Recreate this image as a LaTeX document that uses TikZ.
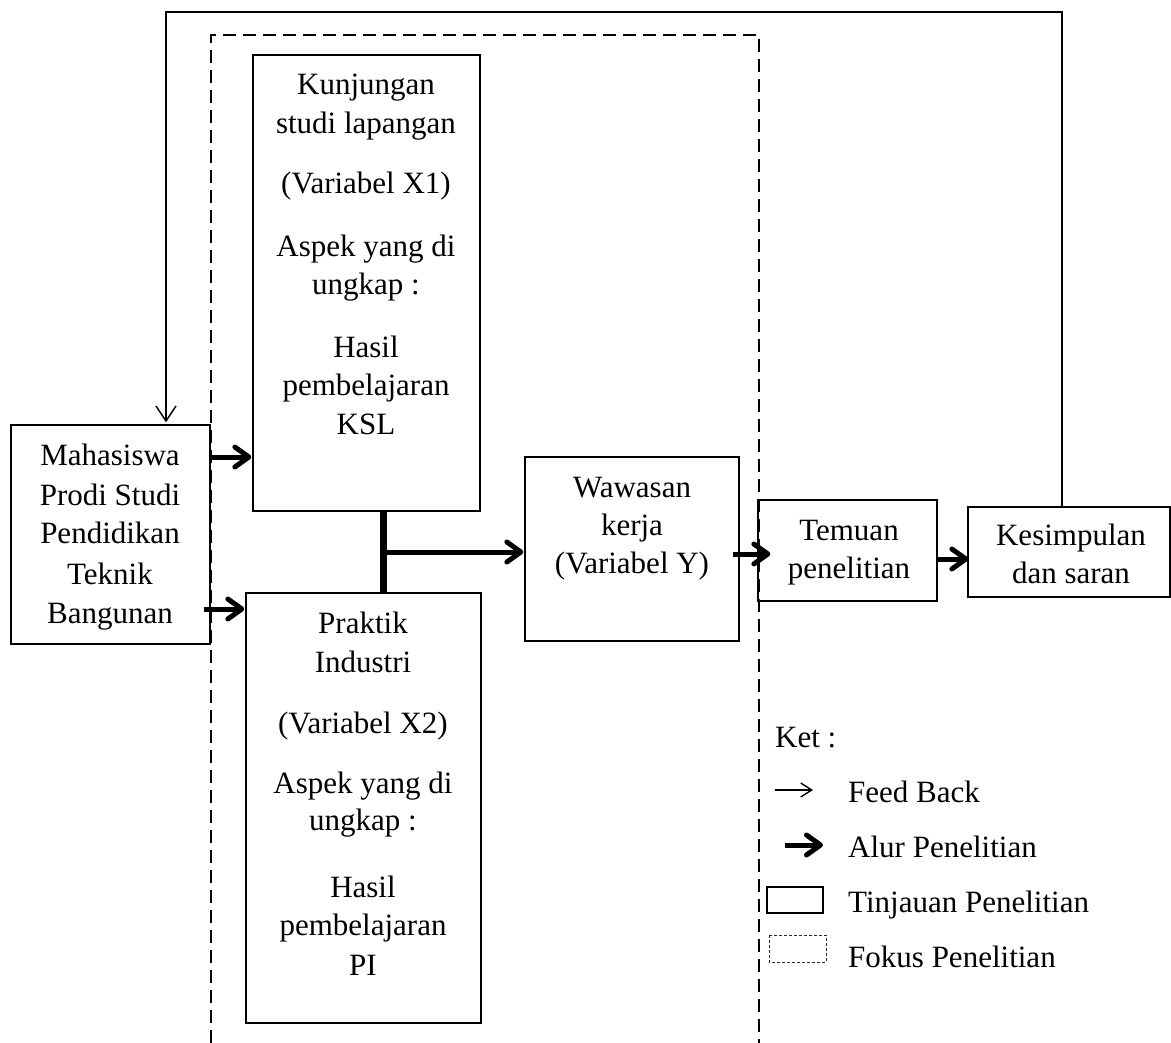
\documentclass[tikz,border=0pt]{standalone}
\usepackage{fontspec}
\setmainfont{Liberation Serif}
\usetikzlibrary{arrows.meta}
\begin{document}
\begin{tikzpicture}[x=1pt,y=-1pt,
  box/.style={draw, line width=1.3pt, inner sep=0pt},
  txt/.style={font=\fontsize{31}{39}\selectfont, inner sep=0pt, anchor=base},
  ltxt/.style={font=\fontsize{31}{39}\selectfont, inner sep=0pt, anchor=base west},
  flow/.style={line width=5pt, -{Straight Barb[length=14pt,width=20pt,round]}},
  fb/.style={line width=1.5pt, -{Straight Barb[length=15pt,width=20pt]}},
  focus/.style={line width=2.8pt, dash pattern=on 13pt off 7pt},
]
\useasboundingbox (0,0) rectangle (1171,1043);

% focus region (dashed, open at the bottom)
\draw[focus] (211,1043) -- (211,35) -- (759,35) -- (759,1043);

% boxes
\node[box, minimum width=199pt, minimum height=219pt] (m)   at (110.5,534.5) {};
\node[box, minimum width=227pt, minimum height=456pt] (ksl) at (366.5,283) {};
\node[box, minimum width=235pt, minimum height=430pt] (pi)  at (363.5,808) {};
\node[box, minimum width=214pt, minimum height=184pt] (ww)  at (632,549) {};
\node[box, minimum width=179pt, minimum height=101pt] (tm)  at (847.5,550.5) {};
\node[box, minimum width=202pt, minimum height=90pt]  (ks)  at (1069,552) {};

% texts
\foreach \t/\yy [count=\i] in {Mahasiswa/465, Prodi Studi/505, Pendidikan/543, Teknik/584, Bangunan/623}
  \node[txt] (mt\i) at (110,\yy) {\t};
\foreach \t/\yy [count=\i] in {Kunjungan/95, studi lapangan/134, {(Variabel X1)}/194, Aspek yang di/257, ungkap :/295, Hasil/357, pembelajaran/395, KSL/434}
  \node[txt] (kt\i) at (366,\yy) {\t};
\foreach \t/\yy [count=\i] in {Praktik/633, Industri/672, {(Variabel X2)}/733, Aspek yang di/793, ungkap :/830, Hasil/897, pembelajaran/935, PI/975}
  \node[txt] (pt\i) at (363,\yy) {\t};
\foreach \t/\yy [count=\i] in {Wawasan/497, kerja/535, {(Variabel Y)}/573}
  \node[txt] (wt\i) at (632,\yy) {\t};
\node[txt] (tt1) at (849,540) {Temuan};
\node[txt] (tt2) at (849,578) {penelitian};
\node[txt] (st1) at (1071,545) {Kesimpulan};
\node[txt] (st2) at (1071,583) {dan saran};

% flow arrows
\coordinate (a1) at (0,457);
\coordinate (a2) at (0,609);
\coordinate (tx) at (383,552);
\coordinate (a3) at (0,554);
\coordinate (a4) at (0,559);
\draw[flow] (m.east |- a1) -- ([xshift=-1pt]ksl.west |- a1);
\draw[flow] ([xshift=-7pt]m.east |- a2) -- ([xshift=-1pt]pi.west |- a2);
\draw[line width=7pt] (ksl.south -| tx) -- (pi.north -| tx);
\draw[flow] (tx) -- ([xshift=-1pt]ww.west |- tx);
\draw[flow] ([xshift=-7pt]ww.east |- a3) -- ([xshift=13pt]tm.west |- a3);
\draw[flow] (tm.east |- a4) -- ([xshift=1pt]ks.west |- a4);

% feedback
\coordinate (c1) at (1062,12);
\coordinate (c2) at (166,12);
\draw[fb] (ks.north -| c1) -- (c1) -- (c2) -- ([yshift=2pt]m.north -| c2);

% legend
\node[ltxt] (ket) at (775,747) {Ket :};
\node[ltxt] (l1) at (848,802) {Feed Back};
\node[ltxt] (l2) at (848,857) {Alur Penelitian};
\node[ltxt] (l3) at (848,912) {Tinjauan Penelitian};
\node[ltxt] (l4) at (848,967) {Fokus Penelitian};
\coordinate (f1) at (775,790);
\coordinate (f2) at (813,790);
\draw[line width=1.4pt, -{Straight Barb[length=11pt,width=14pt]}] (f1) -- (f2);
\coordinate (g1) at (785,845);
\coordinate (g2) at (823,845);
\draw[flow] (g1) -- (g2);
\draw[line width=1.3pt] (767,887) rectangle (823,913);
\draw[line width=1pt, dash pattern=on 3pt off 2pt, black!85] (769,935) rectangle (826,962);
\end{tikzpicture}
\end{document}
